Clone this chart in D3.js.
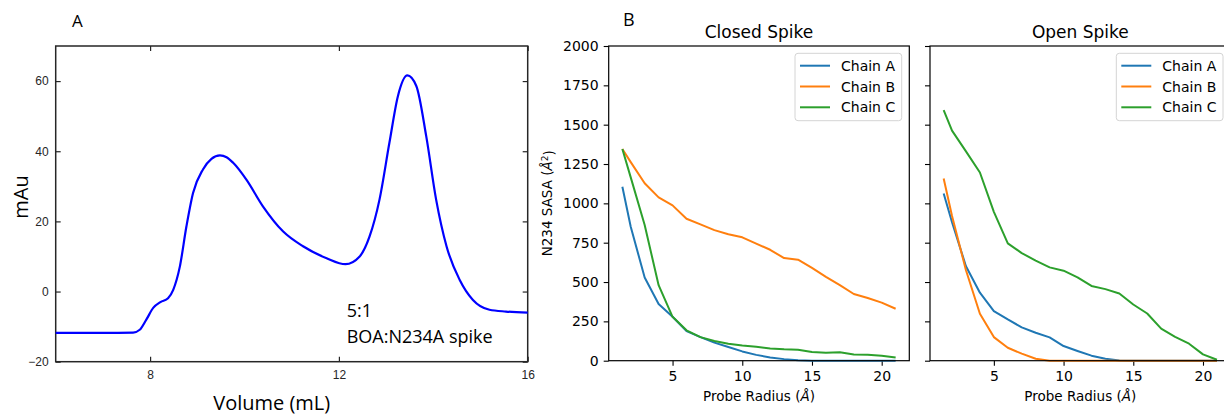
<!DOCTYPE html>
<html>
<head>
<meta charset="utf-8">
<script src="https://cdn.jsdelivr.net/npm/d3@7"></script>
<style>
  body { margin: 0; background: #fff; }
  svg { display: block; }
</style>
</head>
<body>
<svg id="fig" width="1224" height="417"></svg>
<script>
// Panel A: size exclusion trace
var volume = [6.0, 7.0, 7.64, 7.78, 7.92, 8.07, 8.22, 8.38, 8.49, 8.63, 8.77, 8.91, 9.12, 9.30, 9.48,
  9.62, 9.76, 10.04, 10.39, 10.82, 11.24, 11.74, 12.14, 12.44, 12.65, 12.86, 13.07, 13.25, 13.45,
  13.64, 13.85, 14.06, 14.28, 14.56, 14.84, 15.19, 15.54, 16.0];
var mAu = [-11.8, -11.8, -11.7, -10.9, -8.0, -4.6, -3.0, -1.9, 0.5, 7.1, 18.6, 28.1, 34.8, 37.8, 38.8,
  38.3, 36.7, 31.9, 24.3, 17.1, 12.9, 9.5, 7.8, 10.0, 15.7, 26.2, 42.4, 55.7, 61.6,
  58.6, 44.3, 26.2, 12.9, 3.3, -2.4, -5.2, -5.7, -6.0];
var volumeTicks = [8, 12, 16];
var mAuTicks = [-20, 0, 20, 40, 60];

// Panel B: N234 SASA against probe radius
var probeRadius = [1.4, 2, 3, 4, 5, 6, 7, 8, 9, 10, 11, 12, 13, 14, 15, 16, 17, 18, 19, 20, 21];
var closedA = [1105, 851, 529, 360, 279, 188, 150, 115, 87, 59, 37, 21, 10, 3, 0, 0, 0, 0, 0, 0, 0];
var closedB = [1345, 1262, 1128, 1038, 987, 902, 866, 830, 804, 784, 744, 705, 652, 642, 590, 533, 480, 424, 398, 369, 330];
var closedC = [1345, 1165, 862, 480, 279, 193, 150, 125, 108, 97, 88, 78, 73, 70, 55, 51, 53, 40, 38, 32, 21];
var openA = [1063, 880, 600, 432, 315, 262, 212, 178, 148, 93, 62, 32, 12, 2, 0, 0, 0, 0, 0, 0, 0];
var openB = [1158, 920, 575, 298, 150, 82, 45, 12, 0, 0, 0, 0, 0, 0, 0, 0, 0, 0, 0, 0, 0];
var openC = [1592, 1462, 1330, 1196, 946, 746, 684, 636, 593, 572, 530, 475, 455, 427, 357, 300, 204, 151, 108, 40, 6];
var chainNames = ["Chain A", "Chain B", "Chain C"];
var radiusTicks = [5, 10, 15, 20];
var sasaTicks = [0, 250, 500, 750, 1000, 1250, 1500, 1750, 2000];

var chainColors = ["#1f77b4", "#ff7f0e", "#2ca02c"];
var svg = d3.select("#fig");

// ---------- panel A ----------
var ax = d3.scaleLinear().domain([6, 16]).range([55.7, 527.7]);
var ay = d3.scaleLinear().domain([-20, 70]).range([361.7, 46]);
var gA = svg.append("g");
var tickFontA = "'Liberation Sans', Arial, sans-serif";

function styleAxisA(g) {
  g.select(".domain").remove();
  g.selectAll(".tick line").attr("stroke", "#262626").attr("stroke-width", 1.2);
  g.selectAll(".tick text").attr("fill", "#262626").style("font-family", tickFontA).style("font-size", "12px");
}

gA.append("g").attr("transform", "translate(0,361.7)")
  .call(d3.axisBottom(ax).tickValues(volumeTicks).tickFormat(d3.format("d")).tickSize(-5).tickPadding(9))
  .call(styleAxisA);
gA.append("g").attr("transform", "translate(0,46)")
  .call(d3.axisTop(ax).tickValues(volumeTicks).tickFormat("").tickSize(-5))
  .call(styleAxisA);
gA.append("g").attr("transform", "translate(55.7,0)")
  .call(d3.axisLeft(ay).tickValues(mAuTicks).tickFormat(d3.format("d")).tickSize(-5).tickPadding(7))
  .call(styleAxisA);
gA.append("g").attr("transform", "translate(527.7,0)")
  .call(d3.axisRight(ay).tickValues(mAuTicks).tickFormat("").tickSize(-5))
  .call(styleAxisA);

gA.append("rect")
  .attr("x", ax.range()[0]).attr("y", ay.range()[1])
  .attr("width", ax.range()[1] - ax.range()[0]).attr("height", ay.range()[0] - ay.range()[1])
  .attr("fill", "none").attr("stroke", "#262626").attr("stroke-width", 1.5);

gA.append("path")
  .datum(d3.zip(volume, mAu))
  .attr("fill", "none").attr("stroke", "#0000ff").attr("stroke-width", 2.2)
  .attr("d", d3.line().x(function(d) { return ax(d[0]); }).y(function(d) { return ay(d[1]); })
    .curve(d3.curveMonotoneX));

var labelFont = "'Open Sans', Lato, sans-serif";
gA.append("text").attr("x", 72).attr("y", 27).text("A")
  .style("font-family", labelFont).style("font-size", "17px");
gA.append("text").attr("transform", "translate(28,197) rotate(-90)").attr("text-anchor", "middle")
  .text("mAu").style("font-family", labelFont).style("font-size", "20px");
gA.append("text").attr("x", 271.7).attr("y", 410).attr("text-anchor", "middle")
  .text("Volume (mL)").style("font-family", labelFont).style("font-size", "20px");
gA.append("text").attr("x", 346.7).attr("y", 316.7).text("5:1")
  .style("font-family", labelFont).style("font-size", "18px");
gA.append("text").attr("x", 346.7).attr("y", 343.3).text("BOA:N234A spike")
  .style("font-family", labelFont).style("font-size", "18px");

// ---------- panel B ----------
var fontB = "'DejaVu Sans', sans-serif";
var xPad = (probeRadius[probeRadius.length - 1] - probeRadius[0]) * 0.05;
var by = d3.scaleLinear().domain([0, 2000]).range([360.7, 46]);

function sasaPanel(left, title, series, showLabels) {
  var bx = d3.scaleLinear()
    .domain([probeRadius[0] - xPad, probeRadius[probeRadius.length - 1] + xPad])
    .range([left, left + 300.6]);
  var g = svg.append("g");

  var xa = g.append("g").attr("transform", "translate(0,360.7)")
    .call(d3.axisBottom(bx).tickValues(radiusTicks).tickSize(5).tickPadding(5))
  var ya = g.append("g").attr("transform", "translate(" + left + ",0)")
    .call(d3.axisLeft(by).tickValues(sasaTicks).tickSize(5).tickPadding(5)
      .tickFormat(showLabels ? d3.format("d") : ""));
  [xa, ya].forEach(function(a) {
    a.select(".domain").remove();
    a.selectAll(".tick line").attr("stroke", "#000").attr("stroke-width", 1.1);
    a.selectAll(".tick text").attr("fill", "#000").style("font-family", fontB).style("font-size", "14px");
  });

  var line = d3.line().x(function(d) { return bx(d[0]); }).y(function(d) { return by(d[1]); });
  series.forEach(function(vals, i) {
    g.append("path").datum(d3.zip(probeRadius, vals))
      .attr("fill", "none").attr("stroke", chainColors[i]).attr("stroke-width", 2)
      .attr("stroke-linejoin", "round").attr("d", line);
  });

  g.append("rect")
    .attr("x", left).attr("y", 46).attr("width", 300.6).attr("height", 360.7 - 46)
    .attr("fill", "none").attr("stroke", "#000").attr("stroke-width", 1.2);

  g.append("text").attr("x", left + 150.3).attr("y", 37.7).attr("text-anchor", "middle")
    .text(title).style("font-family", fontB).style("font-size", "17px");

  var xl = g.append("text").attr("x", left + 150.3).attr("y", 401).attr("text-anchor", "middle")
    .style("font-family", fontB).style("font-size", "13.5px");
  xl.append("tspan").text("Probe Radius (");
  xl.append("tspan").style("font-style", "italic").text("Å");
  xl.append("tspan").text(")");

  // legend, upper right
  var lg = g.append("g").attr("transform", "translate(" + (left + 300.6 - 7.6 - 106.7) + ",53.3)");
  lg.append("rect").attr("width", 106.7).attr("height", 67.4).attr("rx", 3)
    .attr("fill", "#fff").attr("fill-opacity", 0.8).attr("stroke", "#d4d4d4");
  chainNames.forEach(function(name, i) {
    var yy = 12.4 + i * 20.8;
    lg.append("line").attr("x1", 5).attr("x2", 35).attr("y1", yy).attr("y2", yy)
      .attr("stroke", chainColors[i]).attr("stroke-width", 2);
    lg.append("text").attr("x", 46).attr("y", yy).attr("dy", "0.36em").text(name)
      .style("font-family", fontB).style("font-size", "14px");
  });
  return g;
}

sasaPanel(608.7, "Closed Spike", [closedA, closedB, closedC], true);
sasaPanel(930, "Open Spike", [openA, openB, openC], false);

var yl = svg.append("text").attr("transform", "translate(552,203.3) rotate(-90)").attr("text-anchor", "middle")
  .style("font-family", fontB).style("font-size", "13.5px");
yl.append("tspan").text("N234 SASA (");
yl.append("tspan").style("font-style", "italic").text("Å");
yl.append("tspan").attr("dy", "-0.45em").style("font-size", "9px").text("2");
yl.append("tspan").attr("dy", "0.45em").text(")");

svg.append("text").attr("x", 623).attr("y", 26).text("B")
  .style("font-family", labelFont).style("font-size", "18px");
</script>
</body>
</html>
